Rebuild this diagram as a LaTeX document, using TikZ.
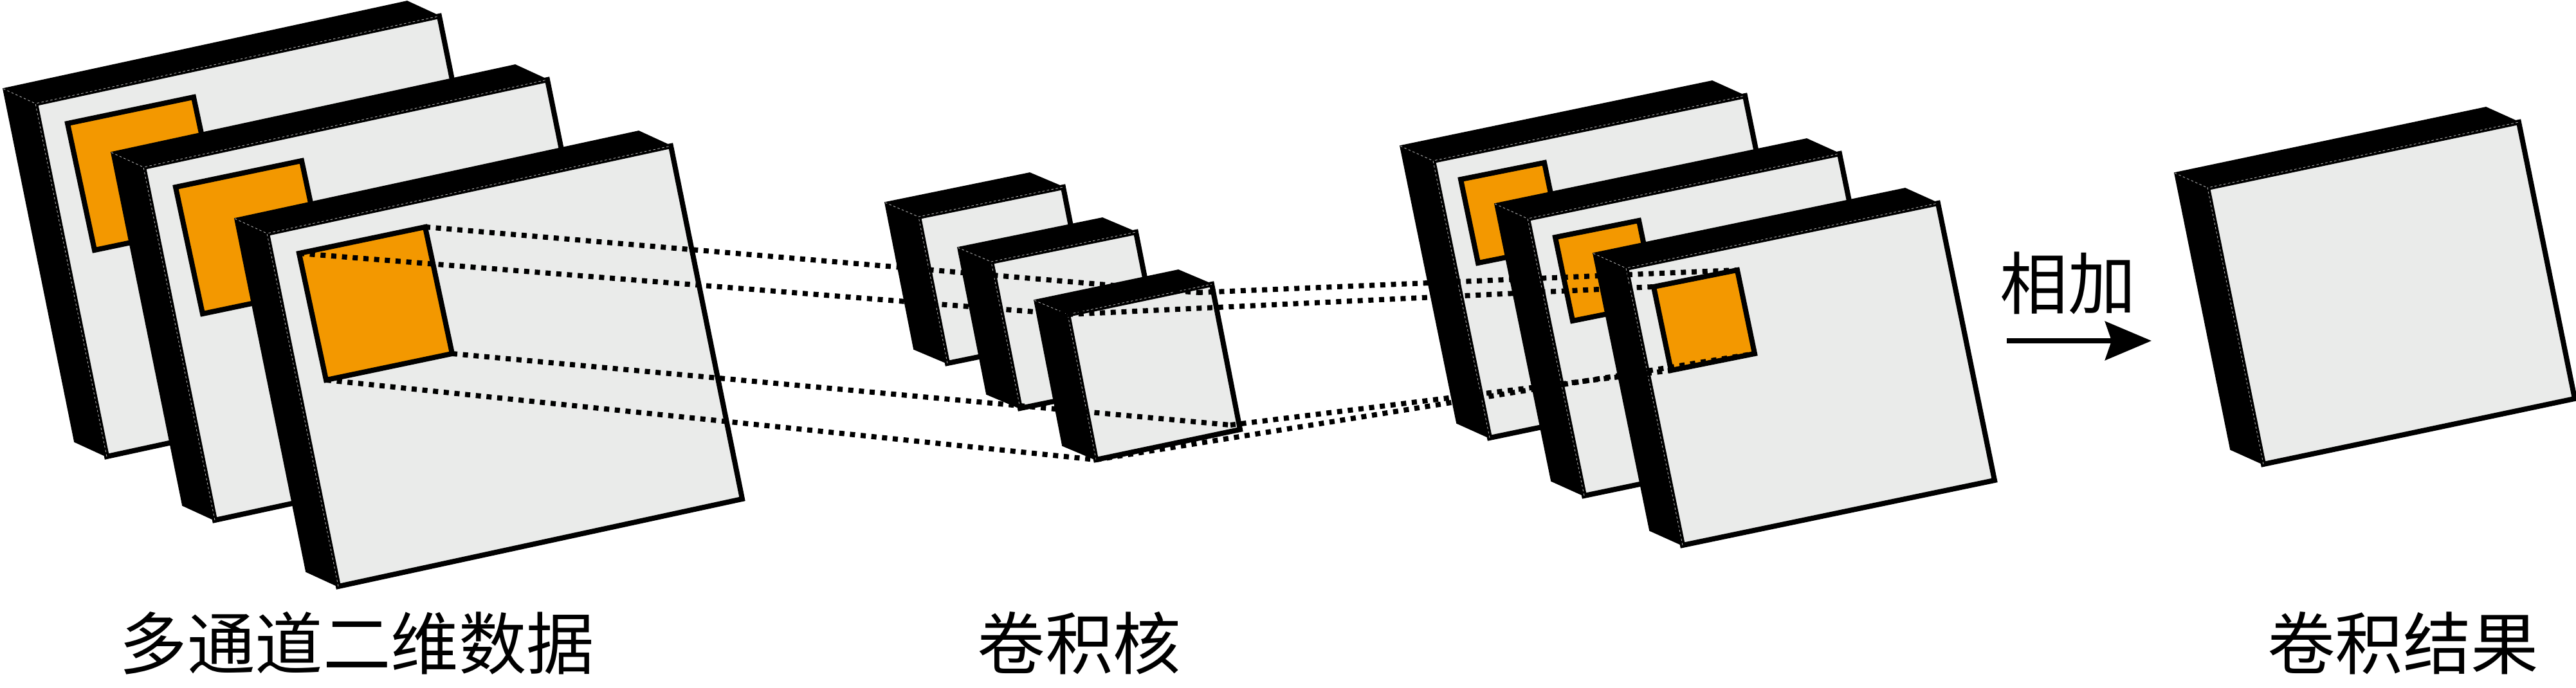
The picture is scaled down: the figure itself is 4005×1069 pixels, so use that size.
\documentclass[tikz,border=0pt]{standalone}
\usepackage{fontspec}
\newfontfamily\cjk{Noto Sans CJK SC}
\usetikzlibrary{calc,arrows.meta}
\definecolor{facegray}{RGB}{234,235,234}
\definecolor{winorange}{RGB}{243,152,0}
\tikzset{
 face/.style={fill=facegray,draw=black,line width=0.08cm,line join=miter},
 win/.style={fill=winorange,draw=black,line width=0.08cm,line join=miter},
 hid/.style={draw=gray!60,line width=0.25pt,dash pattern=on 1pt off 1pt},
 depth/.style={fill=black,draw=black,line width=0.5pt,line join=miter},
 dotline/.style={draw=black,line width=0.08cm,dash pattern=on 0.08cm off 0.087cm},
 lbl/.style={font=\cjk\fontsize{30}{36}\selectfont,inner sep=0pt,anchor=center},
 sumarrow/.style={draw=black,line width=0.08cm,-{Stealth[length=0.72cm,width=0.6cm,inset=0.1cm]}}
}
% #1 name, #2 #3 front top-left, #4 #5 width vector, #6 #7 height vector, #8 #9 depth offset (to back)
\newcommand\mkplate[9]{%
  \coordinate (#1tl) at (#2,#3);
  \coordinate (#1tr) at ($(#1tl)+(#4,#5)$);
  \coordinate (#1bl) at ($(#1tl)+(#6,#7)$);
  \coordinate (#1br) at ($(#1tr)+(#6,#7)$);
  \coordinate (#1btl) at ($(#1tl)+(#8,#9)$);
  \coordinate (#1btr) at ($(#1tr)+(#8,#9)$);
  \coordinate (#1bbl) at ($(#1bl)+(#8,#9)$);
  \path[depth] (#1bbl) -- (#1btl) -- (#1btr) -- (#1tr) -- (#1tl) -- (#1bl) -- cycle;
  \path[face] (#1tl) -- (#1tr) -- (#1br) -- (#1bl) -- cycle;
  \path[hid] (#1btl) -- (#1tl) (#1bl) -- (#1tl) -- (#1tr);
}
% #1 name, #2 plate, #3 #4 offset, #5 #6 width vector, #7 #8 height vector
\newcommand\mkwin[8]{%
  \coordinate (#1tl) at ($(#2tl)+(#3,#4)$);
  \coordinate (#1tr) at ($(#1tl)+(#5,#6)$);
  \coordinate (#1bl) at ($(#1tl)+(#7,#8)$);
  \coordinate (#1br) at ($(#1tr)+(#7,#8)$);
  \path[win] (#1tl) -- (#1tr) -- (#1br) -- (#1bl) -- cycle;
}
\begin{document}
\begin{tikzpicture}[x=0.01cm,y=-0.01cm]
\useasboundingbox (0,0) rectangle (4005,1069);
% input channels
\mkplate{A1}{55}{161}{628}{-136}{111}{549}{-50}{-23}
\mkwin{A1o}{A1}{50}{31}{196}{-41}{42}{197}
\mkplate{A2}{223}{260}{628}{-136}{111}{549}{-50}{-23}
\mkwin{A2o}{A2}{50}{31}{196}{-41}{42}{197}
\mkplate{A3}{415}{363}{628}{-136}{111}{549}{-50}{-23}
\mkwin{A3o}{A3}{50}{31}{196}{-41}{42}{197}
% kernel
\mkplate{K1}{1428}{337}{225}{-46}{45}{228}{-52}{-22}
\mkplate{K2}{1541}{407}{225}{-46}{45}{228}{-52}{-22}
\mkplate{K3}{1660}{489}{224}{-47}{44}{226}{-52}{-22}
% per-channel results
\mkplate{B1}{2228}{250}{485}{-101}{88}{431}{-51}{-23}
\mkwin{B1o}{B1}{43}{29}{130}{-26}{27}{130}
\mkplate{B2}{2375}{340}{485}{-101}{88}{431}{-51}{-23}
\mkwin{B2o}{B2}{43}{29}{130}{-26}{27}{130}
\mkplate{B3}{2528}{417}{485}{-101}{88}{431}{-51}{-23}
\mkwin{B3o}{B3}{43}{29}{130}{-26}{27}{130}
% final result
\mkplate{C}{3432}{292}{484}{-102}{87}{430}{-51}{-23}
% junction points on the kernel
\coordinate (J1) at ($(K3tr)+(-22,13)$);
\coordinate (J3) at ($(K3br)+(-15,-7)$);
% dotted projection lines
\draw[dotline] (A3otr) -- (J1);
\draw[dotline] (A3otl) -- (K3tl);
\draw[dotline] (A3obr) -- (J3);
\draw[dotline] (A3obl) -- (K3bl);
\draw[dotline] (J1) -- (B3otr);
\draw[dotline] (K3tl) -- (B3otl);
\draw[dotline] (J3) -- (B3obl);
\draw[dotline] (K3bl) -- (B3obr);
% sum arrow
\coordinate (arrS) at (3120,530);
\coordinate (arrE) at (3345,530);
\draw[sumarrow] (arrS) -- (arrE);
\node[lbl] (tsum) at (3215,440) {相加};
% captions
\node[lbl] (tin) at (555,1000) {多通道二维数据};
\node[lbl] (tker) at (1678,1000) {卷积核};
\node[lbl] (tres) at (3736,1000) {卷积结果};
\end{tikzpicture}
\end{document}
